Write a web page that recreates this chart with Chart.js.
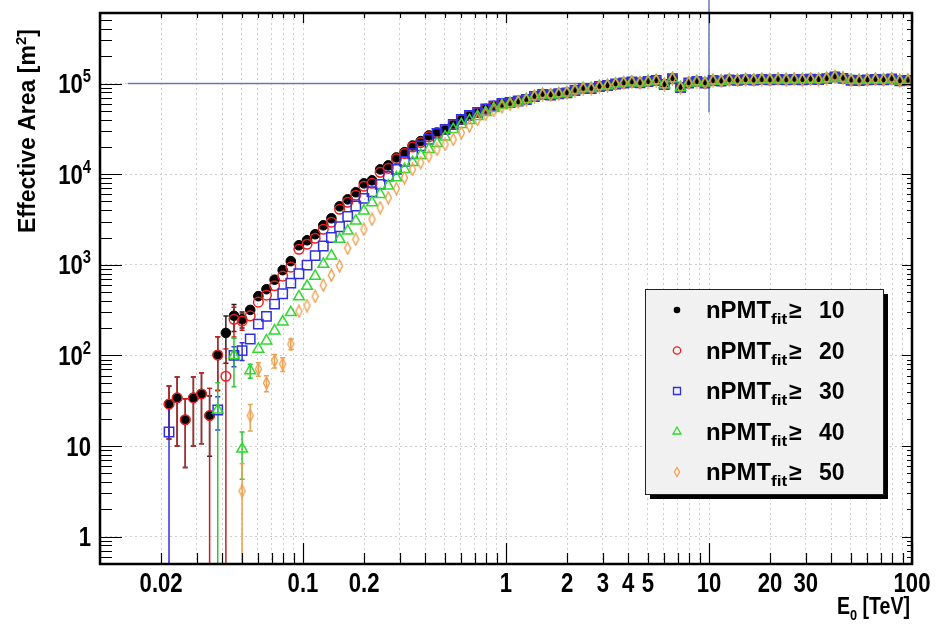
<!DOCTYPE html>
<html><head><meta charset="utf-8">
<script src="https://cdn.jsdelivr.net/npm/chart.js@4.4.1/dist/chart.umd.min.js"></script>
<style>html,body{margin:0;padding:0;background:#fff;}#wrap{width:937px;height:633px;}</style>
</head><body><div id="wrap"><canvas id="c" width="937" height="633"></canvas></div>
<script>
// ---------------- DATA ----------------
// Bin centres of the primary energy E0 [TeV]
const energyTeV = [
 0.02188,0.02399,0.02630,0.02884,0.03162,0.03467,0.03802,0.04169,0.04571,0.05012,
 0.05495,0.06026,0.06607,0.07244,0.07943,0.08710,0.09550,0.1047,0.1148,0.1259,
 0.1380,0.1514,0.1660,0.1820,0.1995,0.2188,0.2399,0.2630,0.2884,0.3162,
 0.3467,0.3802,0.4169,0.4571,0.5012,0.5495,0.6026,0.6607,0.7244,0.7943,
 0.8710,0.9550,1.047,1.148,1.259,1.380,1.514,1.660,1.820,1.995,
 2.188,2.399,2.630,2.884,3.162,3.467,3.802,4.169,4.571,5.012,
 5.495,6.026,6.607,7.244,7.943,8.710,9.550,10.47,11.48,12.59,
 13.80,15.14,16.60,18.20,19.95,21.88,23.99,26.30,28.84,31.62,
 34.67,38.02,41.69,45.71,50.12,54.95,60.26,66.07,72.44,79.43,
 87.10,95.50];

// Effective area [m^2] for each nPMT_fit threshold
const effAreaN10 = [
 29,34,19.5,34,37.6,21.7,101,177,274,251,
 318,451,538,685,873,1097,1644,1866,2173,2730,
 3260,4418,5276,6310,7925,8550,11300,12500,15300,17500,
 20700,23150,26750,28850,31150,35300,40150,44450,47950,52400,
 56500,60250,61800,64150,66650,71900,75650,74700,77100,79000,
 83750,88100,88100,92700,95050,98750,101300,103900,101800,105200,
 107900,97500,113500,90400,101300,105200,101300,107900,106500,109800,
 108400,110200,108900,110700,109600,111200,109900,110900,110100,111500,
 110400,113500,118500,114200,108700,108100,109500,110800,109700,112300,
 107200,108300];
const effAreaN20 = [
 29,34,19.5,34,37.6,21.7,101,59,250,240,
 273,387,462,588,750,942,1486,1687,1964,2468,
 2947,4096,4891,5850,7347,7926,10475,11590,14730,16850,
 19930,22290,25760,28850,31150,35300,40150,44450,47950,52400,
 56500,60250,61800,64150,66650,71900,75650,74700,77100,79000,
 83750,88100,88100,92700,95050,98750,101300,103900,101800,105200,
 107900,97500,113500,90400,101300,105200,101300,107900,106500,109800,
 108400,110200,108900,110700,109600,111200,109900,110900,110100,111500,
 110400,113500,118500,114200,108700,108100,109500,110800,109700,112300,
 107200,108300];
const effAreaN30 = [
 14.3,null,null,null,null,null,25,null,100,113,
 152,222,270,368,479,627,797,991,1260,1614,
 2000,2630,3410,4455,5400,6400,7730,9500,11300,13850,
 16800,20500,24200,28200,31150,35300,40150,44450,47950,52400,
 56500,60250,61800,64150,66650,71900,75650,74700,77100,79000,
 83750,88100,88100,92700,95050,98750,101300,103900,101800,105200,
 107900,97500,113500,90400,101300,105200,101300,107900,106500,109800,
 108400,110200,108900,110700,109600,111200,109900,110900,110100,111500,
 110400,113500,118500,114200,108700,108100,109500,110800,109700,112300,
 107200,108300];
const effAreaN40 = [
 null,null,null,null,null,null,25,null,100,9.3,
 68,117.5,145,187,235,298,445,581,749,1016,
 1253,1915,2362,3043,3925,4850,5995,7400,9150,11300,
 13490,16100,18760,21850,25760,31150,35330,39150,43330,47950,
 53070,57260,60260,62550,66650,71900,75650,74700,77100,79000,
 83750,88100,88100,92700,95050,98750,101300,103900,101800,105200,
 107900,97500,113500,90400,101300,105200,101300,107900,106500,109800,
 108400,110200,108900,110700,109600,111200,109900,110900,110100,111500,
 110400,113500,118500,114200,108700,108100,109500,110800,109700,112300,
 107200,108300];
const effAreaN50 = [
 null,null,null,null,null,null,null,null,null,3.2,
 21.7,70.8,49.7,87.5,80.4,133.6,308,355,448,596,
 768,972,1523,1915,2466,3178,4275,5510,6925,9150,
 11300,13390,15830,18760,21300,24170,28640,33870,40150,45580,
 50420,55100,58730,62550,65800,71900,75650,74700,77100,79000,
 83750,88100,88100,92700,95050,98750,101300,103900,101800,105200,
 107900,97500,113500,90400,101300,105200,101300,107900,106500,109800,
 108400,110200,108900,110700,109600,111200,109900,110900,110100,111500,
 110400,113500,118500,114200,108700,108100,109500,110800,109700,112300,
 107200,108300];

// Statistical errors (first bins only; later ones are smaller than the markers)
const errN10 = [17,24,13.7,24,27,14,60,95,90,50];
const errN20 = [17,24,13.7,24,27,21.7,60,59,90,50];
const errN30 = [14.3,null,null,null,null,null,10,null,25,25];
const errN40 = [null,null,null,null,null,null,25,null,55,5,12];
const errN50 = [null,null,null,null,null,null,null,null,null,3.2,7,12,10,15,14,18];

const seriesThresholds = ['10','20','30','40','50'];

// Axis ticks / labels
const xLabelValues = [0.02,0.1,0.2,1,2,3,4,5,10,20,30,100];
const xLabelTexts  = ['0.02','0.1','0.2','1','2','3','4','5','10','20','30','100'];
const yLabelValues = [1,10,100,1000,10000,100000];
const yLabelTexts  = ['1','10','10^2','10^3','10^4','10^5'];

// Reference cross-hair lines
const refHLineX = [0.0137,10], refHLineY = [1e5,1e5];
const refVLineX = [10,10],     refVLineY = [4.8e4,9e5];

// ---------------- STYLE ----------------
const FONT = '"Liberation Sans", Arial, Helvetica, sans-serif';
const COLORS = ['#000000','#ee2020','#3030e0','#30d830','#f0a050'];
const ERRCOLORS = ['#222222','#c82020','#3030e0','#30c830','#eca050'];
const LINECOLOR = '#6877b0';

function diamondCanvas(w,h,color,lw){
  const c=document.createElement('canvas'); c.width=w; c.height=h;
  const g=c.getContext('2d'); g.strokeStyle=color; g.lineWidth=lw;
  g.beginPath(); g.moveTo(w/2,1); g.lineTo(w-1.5,h/2); g.lineTo(w/2,h-1); g.lineTo(1.5,h/2); g.closePath(); g.stroke();
  return c;
}
const diamondBig = diamondCanvas(9,14,COLORS[4],1.4);

function pts(vals){ return energyTeV.map((e,i)=>({x:e,y:vals[i]})); }

const values = [effAreaN10,effAreaN20,effAreaN30,effAreaN40,effAreaN50];
const errors = [errN10,errN20,errN30,errN40,errN50];

function decadeTicks(min,max){
  const out=[];
  for(let d=Math.floor(Math.log10(min));d<=Math.ceil(Math.log10(max));d++){
    for(let m=1;m<=9;m++){const v=m*Math.pow(10,d); if(v>=min*0.999 && v<=max*1.001) out.push({v,major:m===1});}
  }
  return out;
}

function rich(ctx, parts, x, y, align, sx){
  let total=0;
  for(const p of parts){ctx.font=`bold ${p.s}px ${FONT}`; p.w=ctx.measureText(p.t).width*sx; total+=p.w;}
  let cx = align==='right'? x-total : (align==='center'? x-total/2 : x);
  for(const p of parts){
    ctx.save(); ctx.font=`bold ${p.s}px ${FONT}`; ctx.textAlign='left'; ctx.textBaseline='alphabetic';
    ctx.translate(cx, y+(p.dy||0)); ctx.scale(sx,1); ctx.fillText(p.t,0,0); ctx.restore();
    cx+=p.w;
  }
  return total;
}

const errorBarPlugin = {
  id:'errbars',
  beforeDatasetsDraw(chart){
    const {ctx, chartArea:a, scales:{x,y}} = chart;
    ctx.save();
    ctx.beginPath(); ctx.rect(a.left,a.top,a.right-a.left,a.bottom-a.top); ctx.clip();
    ctx.lineWidth=1.5;
    for(let s=0;s<values.length;s++){
      ctx.strokeStyle=ERRCOLORS[s];
      const err=errors[s];
      for(let i=0;i<err.length;i++){
        const e=err[i], v=values[s][i];
        if(e==null||v==null) continue;
        const px=x.getPixelForValue(energyTeV[i]);
        const top=y.getPixelForValue(v+e);
        const lo=v-e;
        const bot= lo<=0.0001 ? a.bottom : y.getPixelForValue(lo);
        ctx.beginPath(); ctx.moveTo(px,top); ctx.lineTo(px,bot); ctx.stroke();
        ctx.beginPath(); ctx.moveTo(px-2.5,top); ctx.lineTo(px+2.5,top);
        if(lo>0.0001){ctx.moveTo(px-2.5,bot); ctx.lineTo(px+2.5,bot);}
        ctx.stroke();
      }
    }
    ctx.restore();
  }
};

const framePlugin = {
  id:'frame',
  afterDatasetsDraw(chart){
    const {ctx, chartArea:a, scales:{x,y}} = chart;
    ctx.save();
    ctx.strokeStyle='#000'; ctx.lineWidth=1.2;
    for(const t of decadeTicks(x.min,x.max)){
      const px=Math.round(x.getPixelForValue(t.v))+0.5;
      ctx.beginPath();
      ctx.moveTo(px,a.bottom); ctx.lineTo(px,a.bottom-(t.major?21:11));
      ctx.moveTo(px,a.top); ctx.lineTo(px,a.top+(t.major?10:5));
      ctx.stroke();
    }
    for(const t of decadeTicks(y.min,y.max)){
      const py=Math.round(y.getPixelForValue(t.v))+0.5;
      ctx.beginPath();
      ctx.moveTo(a.left,py); ctx.lineTo(a.left+(t.major?22:12),py);
      ctx.moveTo(a.right,py); ctx.lineTo(a.right-(t.major?10:5),py);
      ctx.stroke();
    }
    ctx.lineWidth=2.5;
    ctx.strokeRect(a.left,a.top,a.right-a.left,a.bottom-a.top);

    ctx.fillStyle='#000';
    xLabelValues.forEach((v,i)=>{
      rich(ctx,[{t:xLabelTexts[i],s:27}], x.getPixelForValue(v), 592, 'center', 0.82);
    });
    yLabelValues.forEach((v,i)=>{
      const txt=yLabelTexts[i]; const py=y.getPixelForValue(v);
      let parts;
      if(txt.includes('^')){const [b,e]=txt.split('^'); parts=[{t:b,s:27},{t:e,s:18,dy:-11}];}
      else parts=[{t:txt,s:27}];
      rich(ctx,parts,91,py+9.5,'right',0.82);
    });
    rich(ctx,[{t:'E',s:23},{t:'0',s:15,dy:6},{t:' [TeV]',s:23}], 910, 614, 'right', 0.85);
    ctx.save(); ctx.translate(35,233); ctx.rotate(-Math.PI/2);
    rich(ctx,[{t:'Effective Area [m',s:23},{t:'2',s:15,dy:-9},{t:']',s:23}],0,0,'left',1);
    ctx.restore();

    // legend
    const L=645,T=289,R=883,B=494;
    ctx.fillStyle='#000'; ctx.fillRect(L+5,T+5,R-L,B-T);
    ctx.fillStyle='#f1f1f1'; ctx.fillRect(L,T,R-L,B-T);
    ctx.lineWidth=1; ctx.strokeStyle='#222'; ctx.strokeRect(L+0.5,T+0.5,R-L,B-T);
    const rows=[310,350.5,391,431.5,472];
    rows.forEach((ry,s)=>{
      const mx=L+32;
      ctx.save(); ctx.lineWidth=1.3; ctx.strokeStyle=COLORS[s]; ctx.fillStyle=COLORS[s];
      ctx.beginPath();
      if(s===0){ctx.arc(mx,ry,3.3,0,Math.PI*2); ctx.fill();}
      else if(s===1){ctx.arc(mx,ry,3.7,0,Math.PI*2); ctx.stroke();}
      else if(s===2){ctx.rect(mx-3.5,ry-3.5,7,7); ctx.stroke();}
      else if(s===3){ctx.moveTo(mx,ry-4.5); ctx.lineTo(mx+4,ry+2.5); ctx.lineTo(mx-4,ry+2.5); ctx.closePath(); ctx.stroke();}
      else {ctx.moveTo(mx,ry-4.5); ctx.lineTo(mx+2.6,ry); ctx.lineTo(mx,ry+4.5); ctx.lineTo(mx-2.6,ry); ctx.closePath(); ctx.stroke();}
      ctx.restore();
      ctx.fillStyle='#000';
      const base=ry+8;
      rich(ctx,[{t:'nPMT',s:23}],L+61,base,'left',1.04);
      rich(ctx,[{t:'fit',s:15}],L+126,base+6,'left',1.15);
      rich(ctx,[{t:'\u2265',s:23}],L+144,base,'left',1);
      rich(ctx,[{t:seriesThresholds[s],s:23}],L+174,base,'left',1);
    });
    ctx.restore();
  }
};

const markerStyles = [
  {pointStyle:'circle', pointRadius:4.8, pointBackgroundColor:COLORS[0], pointBorderColor:COLORS[0], pointBorderWidth:1},
  {pointStyle:'circle', pointRadius:4.8, pointBackgroundColor:'rgba(0,0,0,0)', pointBorderColor:COLORS[1], pointBorderWidth:1.5},
  {pointStyle:'rect', pointRadius:6.6, pointBackgroundColor:'rgba(0,0,0,0)', pointBorderColor:COLORS[2], pointBorderWidth:1.5},
  {pointStyle:'triangle', pointRadius:6.2, pointBackgroundColor:'rgba(0,0,0,0)', pointBorderColor:COLORS[3], pointBorderWidth:1.5},
  {pointStyle:diamondBig, pointRadius:5, pointBackgroundColor:'rgba(0,0,0,0)', pointBorderColor:COLORS[4], pointBorderWidth:1.4}
];

const datasets = values.map((vals,s)=>Object.assign({
  label:'nPMTfit \u2265 '+seriesThresholds[s], data:pts(vals), showLine:false, order:5-s
}, markerStyles[s]));
datasets.push({label:'h', data:refHLineX.map((v,i)=>({x:v,y:refHLineY[i]})), showLine:true, borderColor:LINECOLOR, borderWidth:1.5, pointRadius:0, clip:false, order:10});
datasets.push({label:'v', data:refVLineX.map((v,i)=>({x:v,y:refVLineY[i]})), showLine:true, borderColor:LINECOLOR, borderWidth:1.5, pointRadius:0, clip:false, order:10});

new Chart(document.getElementById('c'), {
  type:'line',
  data:{datasets},
  options:{
    responsive:false, animation:false, events:[],
    layout:{padding:{left:100,right:25,top:13,bottom:69}},
    plugins:{legend:{display:false}, tooltip:{enabled:false}},
    scales:{
      x:{type:'logarithmic', min:0.01, max:100,
         afterBuildTicks:(s)=>{s.ticks=decadeTicks(0.02,90).map(t=>({value:t.v}));},
         ticks:{display:false}, grid:{color:'#cdcdcd', lineWidth:1, drawTicks:false}, border:{display:false, dash:[2,3]}},
      y:{type:'logarithmic', min:0.5, max:6e5,
         afterBuildTicks:(s)=>{s.ticks=yLabelValues.map(v=>({value:v}));},
         ticks:{display:false}, grid:{color:'#cdcdcd', lineWidth:1, drawTicks:false}, border:{display:false, dash:[2,3]}}
    }
  },
  plugins:[errorBarPlugin, framePlugin]
});
</script></body></html>
